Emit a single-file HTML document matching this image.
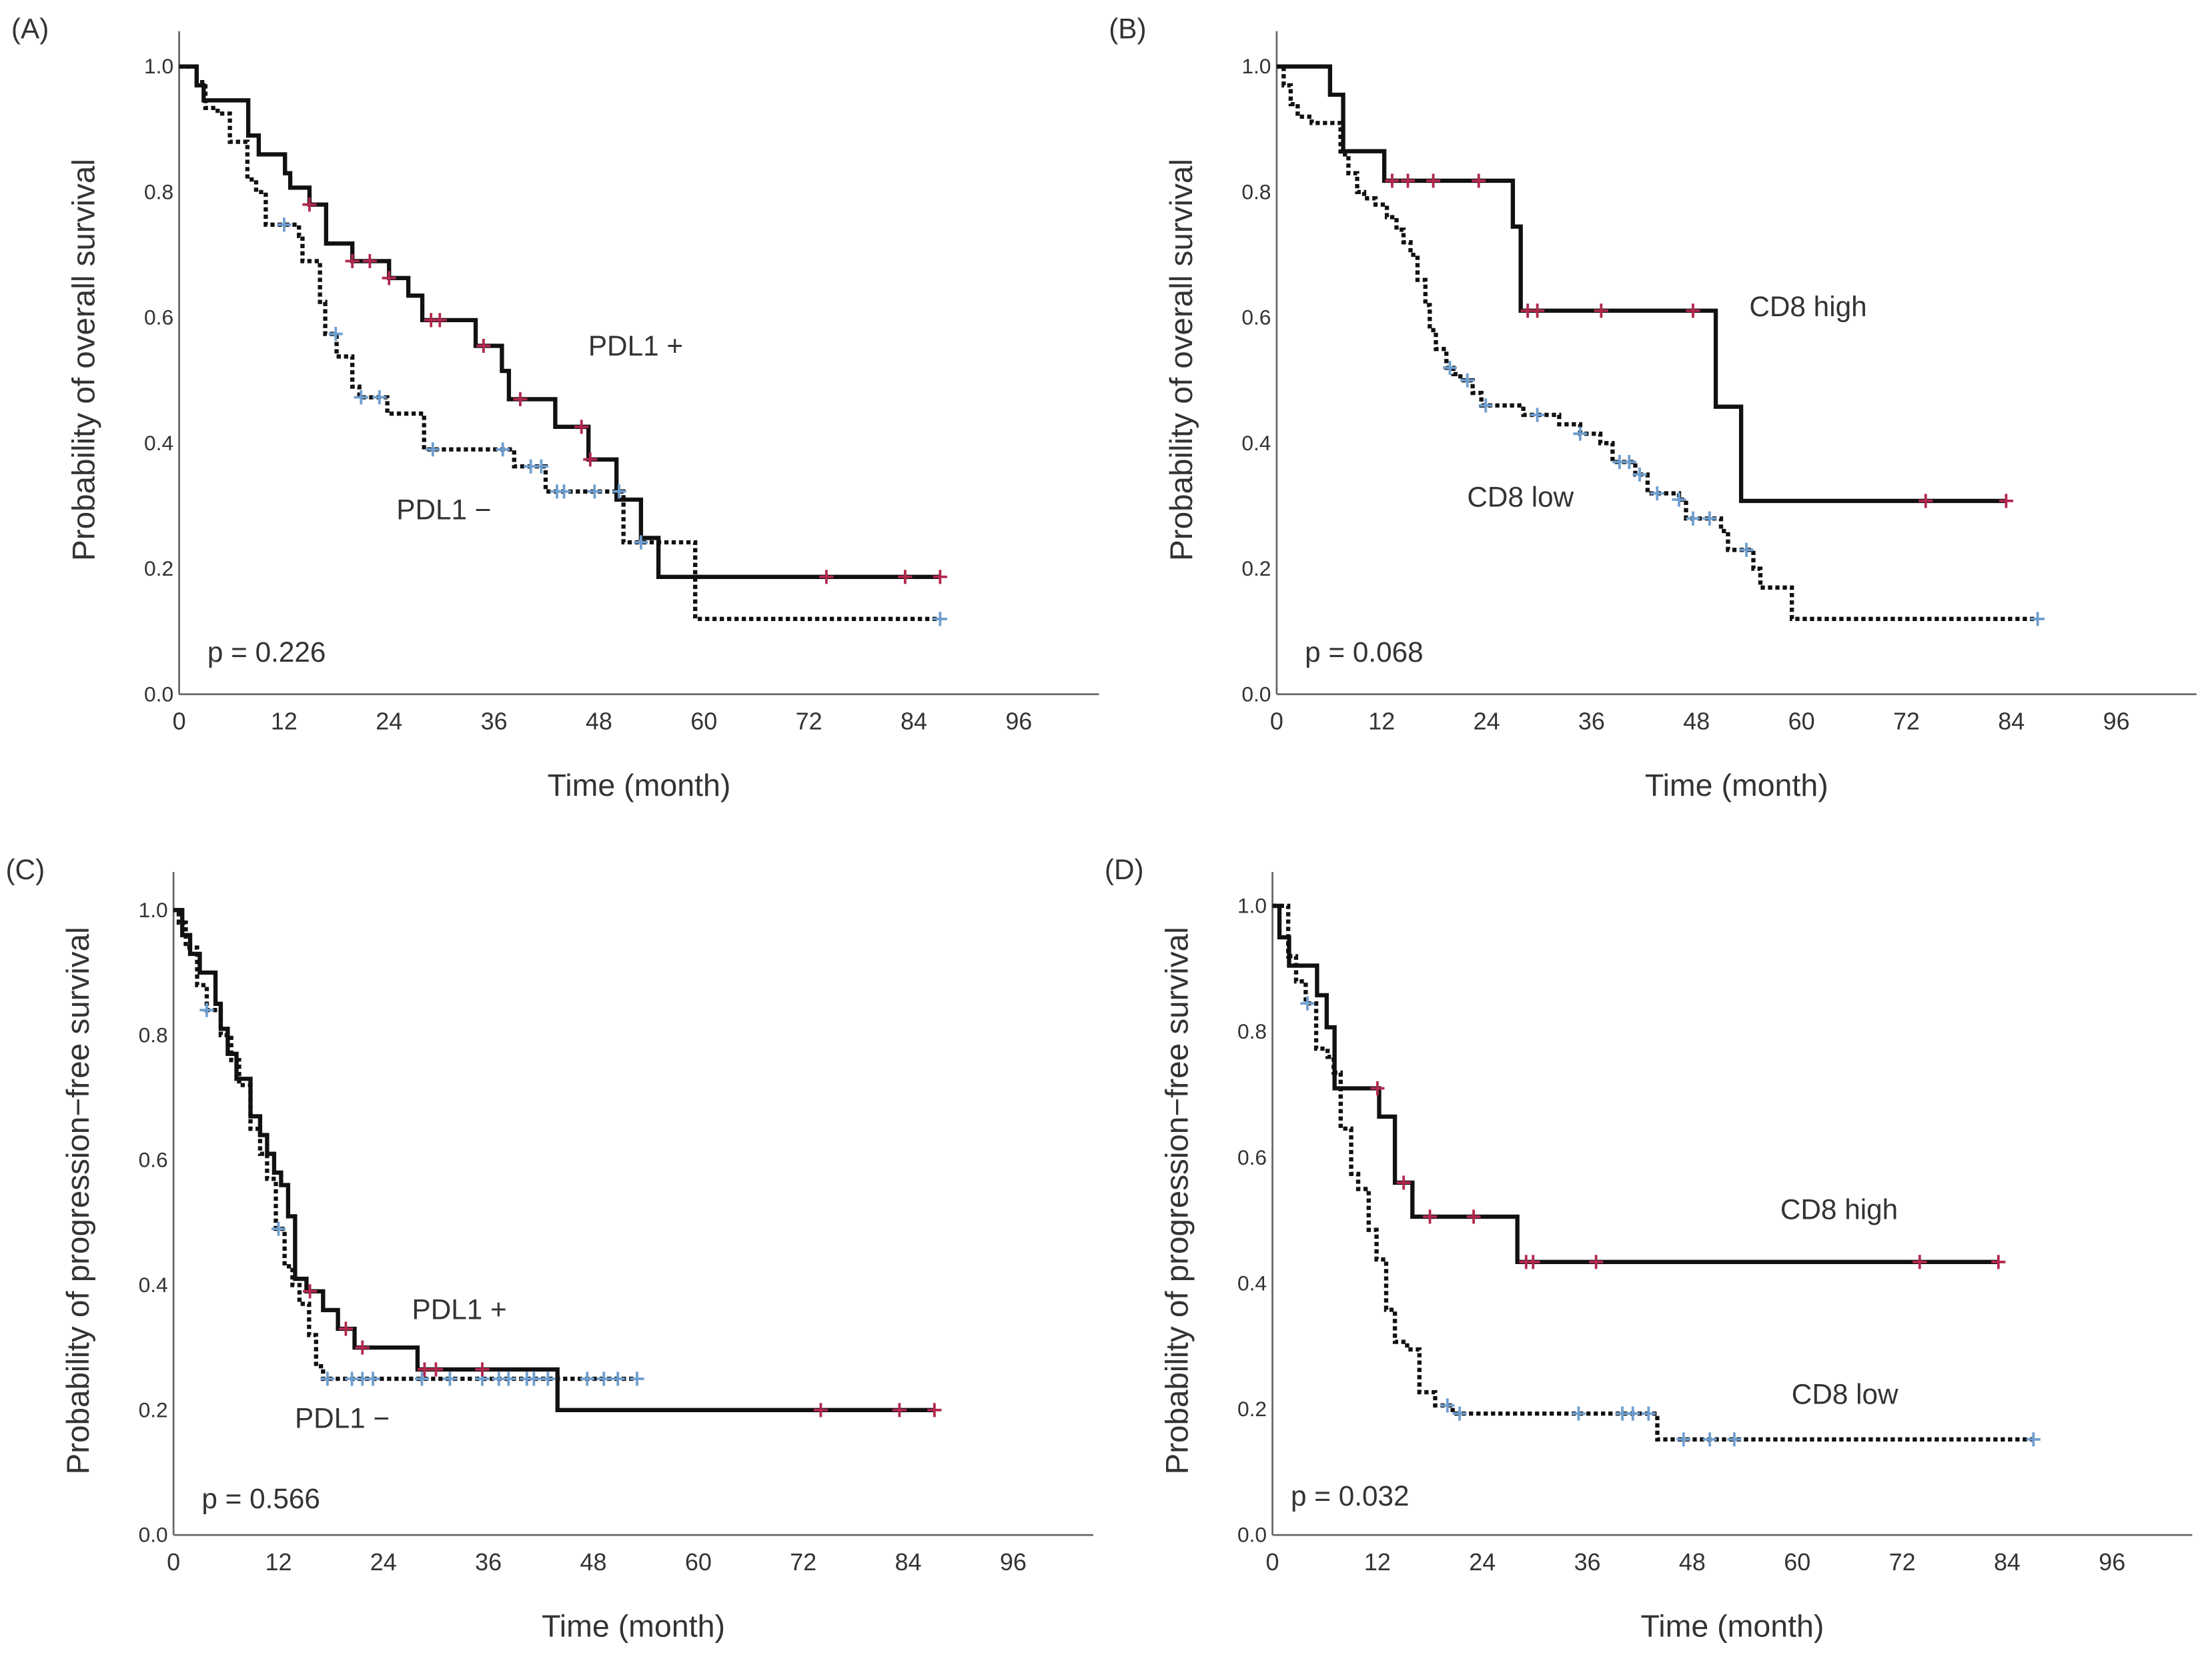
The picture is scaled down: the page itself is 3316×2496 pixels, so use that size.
<!DOCTYPE html>
<html><head><meta charset="utf-8">
<style>
html,body{margin:0;padding:0;background:#fff;}
svg{display:block;}
text{font-family:"Liberation Sans",sans-serif;fill:#333;}
</style></head>
<body>
<svg id="fig" width="3316" height="2496" viewBox="0 0 1568 1180" xmlns="http://www.w3.org/2000/svg"></svg>
<script>
// X tick labels and Y tick labels
const xTicks = [0,12,24,36,48,60,72,84,96];
const yTicks = [0,0.2,0.4,0.6,0.8,1.0];
const yTickLabels = ["0.0","0.2","0.4","0.6","0.8","1.0"];

// Panel A: overall survival by PDL1
const aPosSteps = [[0,1],[2,0.97],[2.8,0.946],[7.9,0.89],[9.1,0.86],[12.1,0.83],[12.7,0.807],[14.9,0.78],[16.8,0.718],[19.8,0.69],[24,0.663],[26.2,0.635],[27.8,0.596],[33.9,0.555],[36.9,0.515],[37.7,0.47],[43,0.426],[46.8,0.374],[50,0.31],[52.8,0.249],[54.8,0.187],[87,0.187]];
const aPosCensor = [14.9,19.8,21.8,24,28.8,29.8,34.8,39,46,47,74,83,87];
const aNegSteps = [[0,1],[2,0.975],[3,0.934],[4.4,0.925],[5.8,0.88],[7.8,0.82],[8.8,0.8],[9.9,0.748],[13.7,0.73],[14.1,0.69],[16.1,0.625],[16.7,0.574],[18,0.538],[19.8,0.49],[20.6,0.473],[23.8,0.447],[28,0.39],[38.3,0.363],[41.9,0.323],[50.8,0.242],[59,0.12],[87,0.12]];
const aNegCensor = [12,17.9,20.8,22.9,29,37,40.2,41.4,43.2,44,47.5,50.3,52.8,87];

// Panel B: overall survival by CD8
const bHighSteps = [[0,1],[6.1,0.955],[7.6,0.865],[12.3,0.818],[27,0.745],[27.9,0.611],[50.2,0.458],[53.1,0.308],[83.4,0.308]];
const bHighCensor = [13.2,15,17.9,23.1,28.7,29.8,37.1,47.6,74.2,83.4];
const bLowSteps = [[0,1],[0.8,0.97],[1.6,0.94],[2.4,0.92],[4,0.91],[7.3,0.86],[8.2,0.83],[9.2,0.8],[10,0.79],[11.3,0.78],[12.6,0.76],[13.7,0.74],[14.5,0.72],[15.3,0.7],[16.1,0.66],[17,0.62],[17.5,0.58],[18.2,0.55],[19.4,0.52],[20.2,0.51],[21,0.5],[22.4,0.48],[23.4,0.46],[28.2,0.445],[32.3,0.43],[34.7,0.415],[37,0.4],[38.4,0.37],[41,0.35],[42.4,0.32],[46,0.31],[46.8,0.28],[50.8,0.26],[51.6,0.23],[54.5,0.2],[55.3,0.17],[58.9,0.12],[87,0.12]];
const bLowCensor = [19.8,21.8,23.9,29.8,34.7,39.2,40.3,41.5,43.5,46,47.6,49.5,53.7,87];

// Panel C: PFS by PDL1
const cPosSteps = [[0,1],[1,0.96],[1.9,0.93],[3,0.9],[4.8,0.85],[5.4,0.81],[6.2,0.77],[7.2,0.73],[8.8,0.67],[9.9,0.64],[10.7,0.61],[11.5,0.58],[12.3,0.56],[13.1,0.51],[13.9,0.41],[15.2,0.39],[17.1,0.36],[18.8,0.33],[20.7,0.3],[27.9,0.265],[43.9,0.2],[87,0.2]];
const cPosCensor = [15.6,19.7,21.6,28.7,30,35.3,74,83,87];
const cNegSteps = [[0,1],[0.6,0.98],[1.4,0.94],[2.7,0.88],[3.8,0.84],[5.4,0.8],[6.6,0.76],[7.5,0.72],[8.8,0.65],[9.9,0.61],[10.7,0.57],[11.7,0.49],[12.7,0.43],[13.6,0.4],[14.4,0.37],[15.5,0.32],[16.3,0.27],[17.1,0.25],[53,0.25]];
const cNegCensor = [3.8,12,17.6,20.4,21.6,22.8,28.4,31.6,35.3,37.2,38.3,40.4,41.2,42.8,47.3,49.2,50.8,53];

// Panel D: PFS by CD8
const dHighSteps = [[0,1],[0.8,0.95],[1.9,0.905],[5.1,0.858],[6.2,0.807],[7.1,0.71],[12.2,0.665],[14,0.56],[16,0.506],[28,0.434],[83,0.434]];
const dHighCensor = [12,15,18,23,29,29.8,37,74,83];
const dLowSteps = [[0,1],[1.8,0.92],[2.7,0.88],[3.8,0.845],[5,0.773],[6.3,0.76],[7,0.735],[7.8,0.646],[9,0.574],[9.8,0.55],[11,0.485],[11.9,0.438],[13,0.358],[14,0.307],[15.4,0.295],[16.8,0.227],[18.6,0.206],[20.6,0.193],[44,0.152],[87,0.152]];
const dLowCensor = [4,20,21.4,35,40,41.2,43,47,50,52.8,87];

const panels = [
  {id:'a',letter:'(A)',ox:127,oy:492,h:445,ylab:'Probability of overall survival',
   s1:aPosSteps,c1:aPosCensor,s2:aNegSteps,c2:aNegCensor,
   l1:['PDL1 +',417,252],l2:['PDL1 \u2212',281,368],p:['p = 0.226',147,469]},
  {id:'b',letter:'(B)',ox:905,oy:492,h:445,ylab:'Probability of overall survival',
   s1:bHighSteps,c1:bHighCensor,s2:bLowSteps,c2:bLowCensor,
   l1:['CD8 high',1240,224],l2:['CD8 low',1040,359],p:['p = 0.068',925,469]},
  {id:'c',letter:'(C)',ox:123,oy:1088,h:443,ylab:'Probability of progression\u2212free survival',
   s1:cPosSteps,c1:cPosCensor,s2:cNegSteps,c2:cNegCensor,
   l1:['PDL1 +',292,935],l2:['PDL1 \u2212',209,1012],p:['p = 0.566',143,1069]},
  {id:'d',letter:'(D)',ox:902,oy:1088,h:446,ylab:'Probability of progression\u2212free survival',
   s1:dHighSteps,c1:dHighCensor,s2:dLowSteps,c2:dLowCensor,
   l1:['CD8 high',1262,864],l2:['CD8 low',1270,995],p:['p = 0.032',915,1067]}
];

const NS='http://www.w3.org/2000/svg';
const svg=document.getElementById('fig');
function mk(tag,attrs,parent){const e=document.createElementNS(NS,tag);for(const k in attrs)e.setAttribute(k,attrs[k]);(parent||svg).appendChild(e);return e;}

function stepPath(steps,xs,ys){
  let d='M'+xs(steps[0][0])+','+ys(steps[0][1]);
  for(let i=1;i<steps.length;i++){d+=' H'+xs(steps[i][0])+' V'+ys(steps[i][1]);}
  return d;
}
function survAt(steps,t){let s=steps[0][1];for(const p of steps){if(p[0]<=t)s=p[1];}return s;}

panels.forEach(P=>{
  const g=mk('g',{});
  
  
  const xs=t=>P.ox+t*(74.4/12);
  const ys=v=>P.oy-v*P.h;
  const lt=mk('text',{x:P.ox-119,y:P.oy-465,'font-size':20,'font-family':'Liberation Serif'},g);
  lt.textContent=P.letter;
  
  
  const yax=mk('line',{x1:P.ox,y1:P.oy-470,x2:P.ox,y2:P.oy,stroke:'#666','stroke-width':1.3},g);
  
  
  const xax=mk('line',{x1:P.ox,y1:P.oy,x2:P.ox+652,y2:P.oy,stroke:'#666','stroke-width':1.3},g);
  
  
  xTicks.forEach(t=>{
    const e=mk('text',{x:xs(t),y:P.oy+25,'font-size':17,'text-anchor':'middle'},g);
    e.textContent=String(t);
    
    
  });
  yTicks.forEach((v,i)=>{
    const e=mk('text',{x:P.ox-4,y:ys(v)+5,'font-size':15,'text-anchor':'end'},g);
    e.textContent=yTickLabels[i];
    
    
  });
  const xt=mk('text',{x:P.ox+326,y:P.oy+72,'font-size':22,'text-anchor':'middle'},g);
  xt.textContent='Time (month)';
  
  
  const cy=P.oy-237;
  const cx=P.ox-68;
  const yt=mk('text',{x:cx,y:cy+8,'font-size':22.5,'text-anchor':'middle',transform:'rotate(-90 '+cx+' '+cy+')'},g);
  yt.textContent=P.ylab;
  
  
  // dotted series
  const p2=mk('path',{d:stepPath(P.s2,xs,ys),fill:'none',stroke:'#111','stroke-width':3,'stroke-dasharray':'3,2.2'},g);
  
  
  const p1=mk('path',{d:stepPath(P.s1,xs,ys),fill:'none',stroke:'#111','stroke-width':3},g);
  
  
  function censor(list,steps,col,name){
    list.forEach(t=>{
      const x=xs(t),y=ys(survAt(steps,t));
      const c=mk('path',{d:'M'+(x-5)+','+y+' H'+(x+5)+' M'+x+','+(y-5)+' V'+(y+5),stroke:col,'stroke-width':1.8},g);
      
      
    });
  }
  censor(P.c2,P.s2,'#6f9fd0','censor-mark-dotted');
  censor(P.c1,P.s1,'#b3284d','censor-mark-solid');
  [[P.l1,'series-label-1'],[P.l2,'series-label-2'],[P.p,'p-value']].forEach(([L,n])=>{
    const e=mk('text',{x:L[1],y:L[2],'font-size':20},g);
    e.textContent=L[0];
    
    
  });
});
</script>
</body></html>
